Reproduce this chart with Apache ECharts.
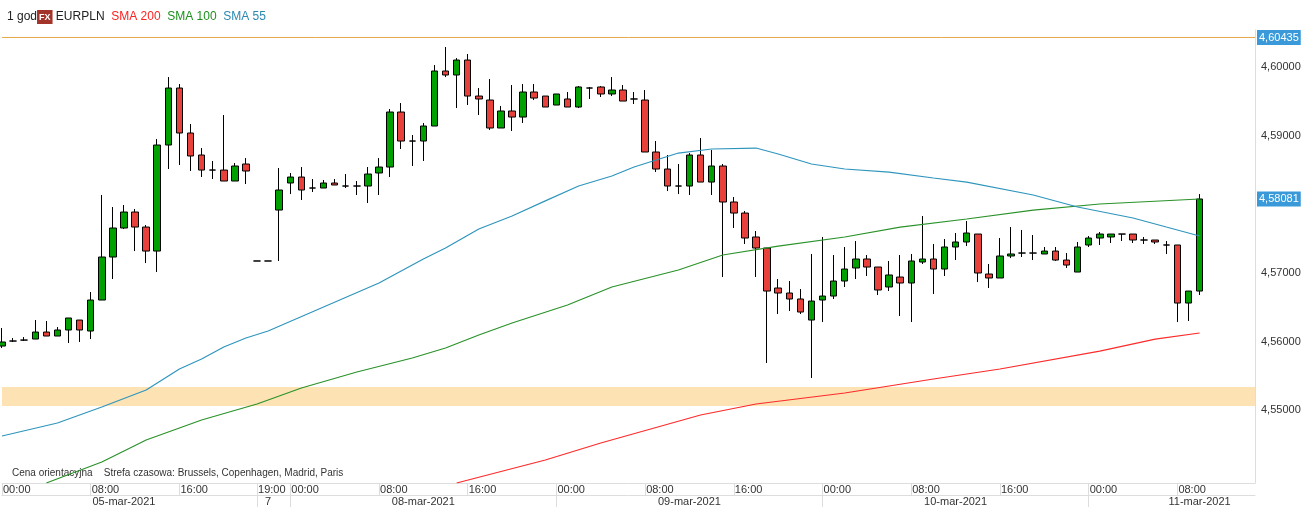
<!DOCTYPE html>
<html><head><meta charset="utf-8">
<script src="https://cdn.jsdelivr.net/npm/echarts@6/dist/echarts.min.js"></script>
<style>html,body{margin:0;padding:0;background:#fff}#c{width:1306px;height:507px}</style>
</head><body><div id="c"></div>
<script>
// candles: [open, close, low, high]
const candles = [
[4.55936,4.55995,4.55907,4.56199],[4.56009,4.56009,4.55995,4.56052],[4.56023,4.56023,4.56009,4.56067],
[4.56038,4.5614,4.56038,4.56315],[4.5614,4.56082,4.56082,4.56301],[4.56082,4.5617,4.56082,4.56213],
[4.5617,4.56345,4.5598,4.56345],[4.56315,4.5617,4.55995,4.56315],[4.56155,4.56607,4.56038,4.56724],
[4.56607,4.57234,4.56607,4.58138],[4.57234,4.57657,4.56913,4.57963],[4.57657,4.5789,4.57642,4.57992],
[4.5789,4.57671,4.57321,4.57934],[4.57671,4.57321,4.57146,4.577],[4.57321,4.58867,4.57015,4.58954],
[4.58867,4.59698,4.58517,4.59858],[4.59698,4.59042,4.58575,4.59756],[4.59042,4.58707,4.58488,4.59173],
[4.58721,4.58502,4.584,4.58823],[4.58502,4.58502,4.58371,4.58634],[4.58502,4.58342,4.58342,4.59304],
[4.58342,4.58561,4.58342,4.58604],[4.5859,4.58488,4.58298,4.58677],[4.57176,4.57176,4.57176,4.57176],
[4.57176,4.57176,4.57176,4.57176],[4.57919,4.58211,4.57176,4.58532],[4.58313,4.584,4.58152,4.58459],
[4.584,4.58211,4.58065,4.58546],[4.5824,4.5824,4.58182,4.58371],[4.5824,4.58313,4.5824,4.58357],
[4.58313,4.58284,4.58284,4.58371],[4.58269,4.58269,4.5824,4.58444],[4.58269,4.58269,4.58138,4.58342],
[4.58269,4.58444,4.58021,4.58546],[4.58459,4.58546,4.58138,4.58677],[4.58546,4.59348,4.584,4.59392],
[4.59348,4.58925,4.58809,4.59479],[4.58925,4.58925,4.58561,4.59013],[4.58925,4.59144,4.58634,4.59188],
[4.59144,4.59946,4.59144,4.60033],[4.59946,4.59888,4.59858,4.60296],[4.59888,4.60106,4.59406,4.60135],
[4.60106,4.59581,4.5945,4.60194],[4.59581,4.59538,4.59304,4.59698],[4.59523,4.59115,4.59086,4.59829],
[4.59115,4.59363,4.59115,4.59436],[4.59363,4.59275,4.59071,4.59742],[4.59275,4.5964,4.59188,4.59756],
[4.5964,4.59552,4.59523,4.59756],[4.59581,4.59421,4.59421,4.59581],[4.5945,4.59611,4.5945,4.59611],
[4.59538,4.59421,4.59421,4.5964],[4.59421,4.59713,4.59406,4.59727],[4.59698,4.59698,4.59538,4.59713],
[4.59713,4.59611,4.59567,4.59727],[4.59611,4.59669,4.59581,4.59858],[4.59669,4.59508,4.59508,4.59742],
[4.59538,4.59538,4.59465,4.5964],[4.59523,4.58765,4.58765,4.59669],[4.58765,4.58517,4.58473,4.58925],
[4.58517,4.58269,4.58196,4.58721],[4.58269,4.58269,4.58152,4.5859],[4.58269,4.58721,4.58138,4.5875],
[4.58721,4.58327,4.58327,4.58969],[4.58327,4.58561,4.58138,4.58794],[4.58561,4.58036,4.56942,4.5859],
[4.58036,4.57875,4.57657,4.58109],[4.57875,4.57511,4.57424,4.57905],[4.57526,4.57365,4.56942,4.57613],
[4.57365,4.56738,4.55689,4.57365],[4.56782,4.56709,4.56403,4.56913],[4.56709,4.56622,4.56447,4.56884],
[4.56622,4.56432,4.56403,4.56767],[4.56315,4.56592,4.5547,4.57278],[4.56607,4.56665,4.56286,4.57526],
[4.56665,4.56884,4.56622,4.57263],[4.56884,4.57059,4.56797,4.5738],[4.57074,4.57205,4.56913,4.57467],
[4.57205,4.57088,4.56957,4.57263],[4.57088,4.56753,4.5668,4.57088],[4.56797,4.56972,4.56738,4.57176],
[4.56942,4.56855,4.56374,4.57263],[4.56855,4.57176,4.56286,4.57278],[4.57161,4.57205,4.57132,4.57832],
[4.57205,4.57059,4.56695,4.57424],[4.57059,4.5738,4.56957,4.57496],[4.5738,4.57453,4.5719,4.57584],
[4.57453,4.57584,4.57394,4.57759],[4.57569,4.57001,4.56869,4.57569],[4.56986,4.56928,4.56782,4.57132],
[4.56928,4.57249,4.56928,4.57511],[4.57249,4.57278,4.57219,4.57671],[4.57292,4.57292,4.57234,4.57628],
[4.57292,4.57292,4.5719,4.57555],[4.57278,4.57321,4.57278,4.5738],[4.57321,4.5719,4.57176,4.5738],
[4.5719,4.57117,4.57074,4.57292],[4.57015,4.5738,4.57015,4.57453],[4.57409,4.57511,4.5738,4.5754],
[4.57511,4.57569,4.57409,4.57598],[4.57526,4.57569,4.57438,4.57569],[4.57569,4.57569,4.57467,4.57569],
[4.57569,4.57482,4.57438,4.57569],[4.57482,4.57482,4.57424,4.57526],[4.57482,4.57453,4.57424,4.57482],
[4.57409,4.57409,4.57278,4.57467],[4.57409,4.56563,4.56286,4.57409],[4.56563,4.56738,4.56301,4.56738],
[4.56738,4.5808,4.5668,4.58152]
];
const sma55 = [[0,4.54624],[5,4.54814],[9,4.55047],[13,4.55295],[16,4.55601],[18,4.55747],[20,4.55922],[22,4.56053],[24,4.56155],[29,4.56505],[34,4.56855],[38,4.57205],[40,4.57365],[43,4.57642],[46,4.57832],[49,4.58052],[52,4.58269],[55,4.58415],[57,4.58546],[61,4.5875],[64,4.58809],[68,4.58823],[70,4.58736],[73,4.5859],[76,4.58517],[80,4.58473],[84,4.58386],[87,4.58327],[93,4.58138],[97,4.57963],[102,4.57803],[105,4.57671],[108,4.5754]];
const sma100 = [[4,4.53939],[9,4.54245],[13,4.54566],[18,4.54857],[23,4.55091],[27,4.55324],[32,4.55557],[37,4.55761],[40,4.55907],[43,4.56097],[46,4.56272],[51,4.56534],[55,4.56797],[61,4.57045],[65,4.57263],[70,4.57394],[76,4.57526],[81,4.57671],[87,4.57788],[93,4.57919],[99,4.58007],[108,4.5808]];
const sma200 = [[41,4.53939],[49,4.54274],[54,4.54522],[63,4.54931],[68,4.55091],[76,4.55251],[84,4.55455],[90,4.55601],[99,4.55863],[104,4.56038],[108,4.56126]];
const refLine = 4.60435, lastPrice = 4.58081;
const zone = [4.55062, 4.55339];
const dateLabels = {11:'05-mar-2021',24:'7',38:'08-mar-2021',62:'09-mar-2021',86:'10-mar-2021',108:'11-mar-2021'};
const dateTicks = [23,26,50,74,98];
// categories: hourly
const cats = [];
for (let i=0;i<23;i++) cats.push({d:5,h:i});
[19,20,21].forEach(h=>cats.push({d:7,h:h}));
for (let k=0;k<88;k++) cats.push({d:8+Math.floor(k/24),h:k%24});
const catNames = cats.map(c=>c.d+'-'+String(c.h).padStart(2,'0')+':00');
const last = catNames.length-1;
const hh = i => String(cats[i].h).padStart(2,'0')+':00';
const showTime = i => cats[i].h%8===0 || i===23;
const fmt = v => v.toFixed(5).replace('.',',');
const badge = v => ({show:true,distance:2,formatter:fmt(v),backgroundColor:'#3a9ad9',color:'#fff',padding:[2,2],fontSize:11,fontFamily:'Arial, Liberation Sans'});

const chart = echarts.init(document.getElementById('c'));
chart.setOption({
  animation:false,
  title:{left:2,top:5,text:'1 god{fx|FX} EURPLN  {r|SMA 200}  {g|SMA 100}  {b|SMA 55}',
    textStyle:{fontSize:12,fontWeight:'normal',color:'#222',fontFamily:'Arial, Liberation Sans',
      rich:{fx:{backgroundColor:'#a3342a',color:'#fff',fontSize:9,fontWeight:'bold',padding:[3,2,2,2]},
        r:{color:'#ff2020',fontSize:12},g:{color:'#1e901e',fontSize:12},b:{color:'#2a88b0',fontSize:12}}}},
  graphic:[{type:'text',left:12,top:468,style:{text:'Cena orientacyjna    Strefa czasowa: Brussels, Copenhagen, Madrid, Paris',fontSize:10,fill:'#333',fontFamily:'Arial, Liberation Sans'}}],
  grid:{left:0,right:51,top:30,bottom:24},
  xAxis:[{type:'category',data:catNames,boundaryGap:false,position:'bottom',
      axisLine:{lineStyle:{color:'#ddd'}},
      axisTick:{show:true,length:12,interval:(i)=>showTime(i),lineStyle:{color:'#ddd'}},
      axisLabel:{interval:(i)=>showTime(i),formatter:(v,i)=>hh(i),align:'left',margin:1,padding:[0,0,0,1],color:'#333',fontSize:11,fontFamily:'Arial, Liberation Sans'},
      splitLine:{show:false}},
    {type:'category',data:catNames,boundaryGap:false,position:'bottom',offset:12,
      axisLine:{show:true,lineStyle:{color:'#ddd'}},
      axisTick:{show:true,length:12,interval:(i)=>dateTicks.includes(i),lineStyle:{color:'#ddd'}},
      axisLabel:{interval:(i)=>dateLabels[i]!==undefined,formatter:(v,i)=>dateLabels[i]||'',align:'center',margin:1,color:'#333',fontSize:11,fontFamily:'Arial, Liberation Sans'}}],
  yAxis:{type:'value',position:'right',min:4.53939,max:4.60544,splitNumber:7,scale:true,
    axisLine:{show:true,lineStyle:{color:'#ddd'}},axisTick:{show:false},splitLine:{show:false},
    axisLabel:{color:'#333',fontSize:11,margin:6,showMinLabel:false,showMaxLabel:false,fontFamily:'Arial, Liberation Sans',
      formatter:v=>(Math.abs(v-4.58)<1e-6||Math.abs(v-4.54)<1e-6)?'':fmt(v)}},
  series:[
    {type:'candlestick',data:candles,barWidth:7,
      itemStyle:{color:'#00a000',color0:'#e8403a',borderColor:'#000',borderColor0:'#000',borderWidth:1},
      markArea:{silent:true,itemStyle:{color:'#fde2b3'},data:[[{yAxis:zone[0]},{yAxis:zone[1]}]]}},
    {type:'line',data:sma200,symbol:'none',lineStyle:{color:'#ff2a2a',width:1.2},z:3},
    {type:'line',data:sma100,symbol:'none',lineStyle:{color:'#2a922a',width:1.2},z:3},
    {type:'line',data:sma55,symbol:'none',lineStyle:{color:'#2f95bd',width:1.2},z:3},
    {type:'line',data:[[0,refLine],[last,refLine]],symbol:'none',silent:true,lineStyle:{color:'#e8a84a',width:1},endLabel:badge(refLine),z:4},
    {type:'line',data:[[0,lastPrice],[last,lastPrice]],symbol:'none',silent:true,lineStyle:{opacity:0},endLabel:badge(lastPrice),z:4}
  ]
});
</script></body></html>
